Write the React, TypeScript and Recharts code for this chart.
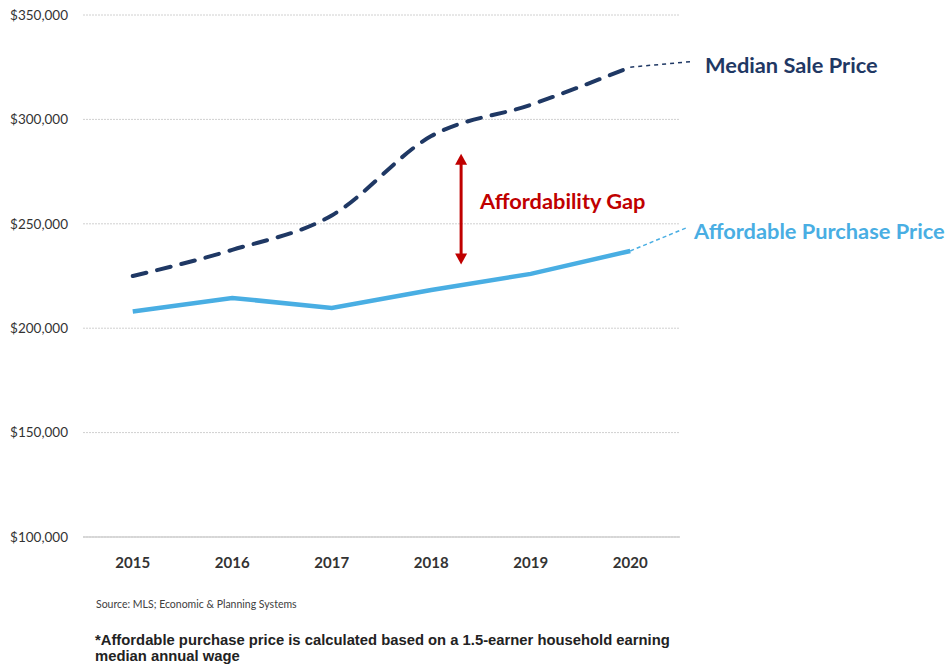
import React from 'react';
import {
  LineChart,
  Line,
  XAxis,
  YAxis,
  CartesianGrid,
  ReferenceLine,
} from 'recharts';

const years = [2015, 2016, 2017, 2018, 2019, 2020];
const medianSalePrice = [225000, 237500, 254000, 292000, 307000, 325000];
const affordablePrice = [208000, 214500, 209700, 218300, 226000, 237000];
const yTicks = [100000, 150000, 200000, 250000, 300000, 350000];

// trend extensions past 2020 and the gap arrow (data units)
const medianExtension = [
  { x: 2020, y: 325000 },
  { x: 2020.64, y: 327800 },
];
const affordableExtension = [
  { x: 2020, y: 237000 },
  { x: 2020.56, y: 248000 },
];
const gapArrow = [
  { x: 2018.3, y: 283500 },
  { x: 2018.3, y: 230500 },
];

const data = years.map((year, i) => ({
  year,
  median: medianSalePrice[i],
  affordable: affordablePrice[i],
}));

const NAVY = '#1F3864';
const BLUE = '#49AEE3';
const RED = '#C00000';
const FONT = 'Lato, sans-serif';

const fmtMoney = (v: number) => '$' + v.toLocaleString('en-US');

const GapArrow = (props: any) => {
  const { x1, y1, x2, y2 } = props;
  const h = 11;
  const w = 6;
  return (
    <g>
      <line x1={x1} y1={y1 + h - 1} x2={x2} y2={y2 - h + 1} stroke={RED} strokeWidth={3} />
      <polygon points={`${x1},${y1} ${x1 - w},${y1 + h} ${x1 + w},${y1 + h}`} fill={RED} />
      <polygon points={`${x2},${y2} ${x2 - w},${y2 - h} ${x2 + w},${y2 - h}`} fill={RED} />
    </g>
  );
};

const labelStyle = (left: number, top: number, color: string): React.CSSProperties => ({
  position: 'absolute',
  left,
  top,
  fontSize: 21.8,
  lineHeight: '26px',
  fontWeight: 700,
  color,
  fontFamily: FONT,
  whiteSpace: 'nowrap',
});

export default function App() {
  return (
    <div
      style={{
        position: 'absolute',
        left: 0,
        top: 0,
        width: 945,
        height: 665,
        background: '#fff',
        fontFamily: FONT,
      }}
    >
      <LineChart
        width={945}
        height={580}
        data={data}
        margin={{ top: 15, right: 265, bottom: 0, left: 0 }}
      >
        <CartesianGrid
          vertical={false}
          stroke="#d0d0d0"
          strokeDasharray="2 1"
        />
        <XAxis
          dataKey="year"
          type="number"
          domain={[2014.5, 2020.5]}
          ticks={years}
          axisLine={{ stroke: '#d0d0d0', strokeWidth: 1.5 }}
          tickLine={false}
          tickMargin={14}
          height={43}
          tick={{ fontSize: 15, fontWeight: 700, fill: '#333', fontFamily: FONT }}
        />
        <YAxis
          domain={[100000, 350000]}
          ticks={yTicks}
          width={83}
          axisLine={false}
          tickLine={false}
          tickSize={0}
          tickMargin={15}
          tickFormatter={fmtMoney}
          tick={{ fontSize: 13.5, fill: '#333', fontFamily: FONT }}
        />
        <ReferenceLine
          segment={medianExtension}
          stroke={NAVY}
          strokeWidth={1.5}
          strokeDasharray="4 4"
          ifOverflow="visible"
        />
        <ReferenceLine
          segment={affordableExtension}
          stroke={BLUE}
          strokeWidth={1.5}
          strokeDasharray="4 3"
          ifOverflow="visible"
        />
        <ReferenceLine
          segment={gapArrow}
          ifOverflow="visible"
          shape={GapArrow}
        />
        <Line
          dataKey="affordable"
          type="linear"
          stroke={BLUE}
          strokeWidth={4.5}
          dot={false}
          isAnimationActive={false}
        />
        <Line
          dataKey="median"
          type="monotone"
          stroke={NAVY}
          strokeWidth={4}
          strokeDasharray="14 11"
          strokeLinecap="round"
          dot={false}
          isAnimationActive={false}
        />
      </LineChart>

      <div style={labelStyle(705, 52, NAVY)}>Median Sale Price</div>
      <div style={labelStyle(694, 218, BLUE)}>Affordable Purchase Price</div>
      <div style={labelStyle(480, 188, RED)}>Affordability Gap</div>
      <div
        style={{
          position: 'absolute',
          left: 96,
          top: 598,
          fontSize: 10.5,
          color: '#404040',
          fontFamily: FONT,
        }}
      >
        Source: MLS; Economic &amp; Planning Systems
      </div>
      <div
        style={{
          position: 'absolute',
          left: 95,
          top: 632,
          fontSize: 14.8,
          lineHeight: '16px',
          fontWeight: 700,
          color: '#222',
          fontFamily: 'Liberation Sans, Arial, sans-serif',
        }}
      >
        *Affordable purchase price is calculated based on a 1.5-earner household earning
        <br />
        median annual wage
      </div>
    </div>
  );
}
